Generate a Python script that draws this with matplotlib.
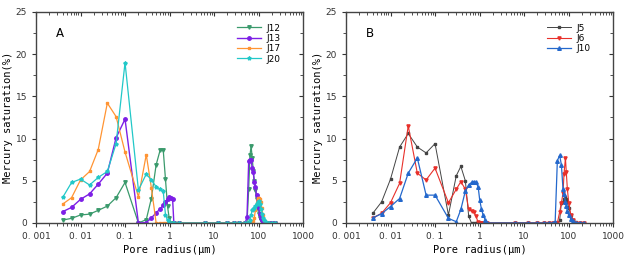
import numpy as np
import matplotlib
matplotlib.use('Agg')
import matplotlib.pyplot as plt
from matplotlib.ticker import FixedLocator, FixedFormatter, LogLocator, MultipleLocator, NullFormatter

# pore radius grid (um), panel A
rA = [0.004, 0.0063, 0.01, 0.016, 0.025, 0.04, 0.063, 0.1,
      0.2, 0.3, 0.39, 0.5, 0.62, 0.72, 0.81, 0.9, 0.98, 1.07, 1.17, 1.25,
      1.6, 6.3, 12.5, 20, 28, 37, 50,
      55, 60, 64, 68, 72, 76, 80, 85, 90, 95, 100, 106, 112, 118, 125, 135, 150, 170, 200, 230]

J12 = [0.35, 0.55, 0.95, 1.05, 1.5, 2.0, 3.0, 4.8,
       0.0, 0.4, 2.9, 6.9, 8.7, 8.7, 5.2, 2.0, 0.6, 0.0, 0.0, 0.0,
       0, 0, 0, 0, 0, 0, 0,
       0.0, 4.0, 8.0, 9.1, 7.7, 6.2, 5.0, 3.9, 2.8, 1.8, 1.1, 0.6, 0.3, 0.15, 0.05, 0, 0, 0, 0, 0]
J13 = [1.35, 1.85, 2.8, 3.45, 4.6, 5.9, 10.1, 12.3,
       0.0, 0.05, 0.6, 1.2, 1.7, 2.1, 2.5, 2.9, 3.1, 3.0, 2.9, 0.0,
       0, 0, 0, 0, 0, 0, 0,
       0.7, 7.3, 7.5, 7.5, 6.5, 6.0, 4.9, 4.3, 3.3, 2.6, 1.8, 1.1, 0.6, 0.3, 0.1, 0, 0, 0, 0, 0]
J17 = [2.25, 3.0, 5.1, 6.1, 8.7, 14.2, 12.6, 8.4,
       3.1, 8.1, 4.2, 0.0, 0, 0, 0, 0, 0, 0, 0, 0,
       0, 0, 0, 0, 0, 0, 0,
       0, 0, 0, 0, 0, 0.2, 0.6, 1.5, 2.4, 3.0, 3.0, 2.9, 2.5, 1.8, 1.0, 0.4, 0.15, 0.05, 0, 0]
J20 = [3.05, 4.8, 5.2, 4.5, 5.4, 6.1, 9.4, 19.0,
       3.9, 5.8, 5.1, 4.3, 4.0, 3.8, 1.0, 0.3, 0.0, 0, 0, 0,
       0, 0, 0, 0, 0, 0, 0,
       0, 0, 0.3, 1.0, 1.5, 1.6, 1.8, 2.0, 2.3, 2.5, 2.6, 2.2, 1.6, 1.1, 0.6, 0.3, 0.1, 0.05, 0, 0]

# panel B
rB = [0.004, 0.0063, 0.01, 0.016, 0.025, 0.04, 0.063, 0.1,
      0.2, 0.3, 0.38, 0.48, 0.57, 0.66, 0.74, 0.83, 0.93, 1.01, 1.1, 1.2, 1.36, 1.5,
      6.3, 12.5, 20, 28, 37, 45,
      50, 56, 63, 69, 75, 79, 85, 89, 94, 101, 112, 126, 150, 180, 220]

J5 = [1.15, 2.5, 5.2, 9.0, 10.6, 9.0, 8.3, 9.4,
      0.95, 5.6, 6.7, 5.0, 0.8, 0, 0, 0, 0, 0, 0, 0, 0, 0,
      0, 0, 0, 0, 0, 0,
      0, 0, 0.3, 2.4, 2.5, 2.9, 3.1, 2.9, 2.5, 1.8, 1.0, 0.4, 0.1, 0, 0]
J6 = [0.6, 1.15, 2.4, 4.7, 11.5, 5.9, 5.1, 6.5,
      2.4, 4.0, 4.9, 4.0, 1.6, 1.4, 1.3, 0.8, 0.1, 0, 0, 0, 0, 0,
      0, 0, 0, 0, 0, 0,
      0, 0, 1.3, 2.4, 3.5, 5.8, 7.7, 6.0, 4.0, 2.4, 1.0, 0.4, 0.05, 0, 0]
J10 = [0.6, 1.1, 1.95, 2.9, 5.9, 7.7, 3.3, 3.3,
       0.55, 0.15, 1.6, 3.8, 4.5, 4.8, 4.9, 4.8, 4.3, 2.7, 1.7, 0.95, 0.3, 0.0,
       0, 0, 0, 0, 0, 0,
       0.15, 7.4, 8.0, 6.9, 4.0, 3.4, 2.5, 2.0, 1.4, 0.9, 0.5, 0.2, 0.05, 0, 0]

xticks = [0.001, 0.01, 0.1, 1, 10, 100, 1000]
xticklabels = ['0. 001', '0. 01', '0. 1', '1', '10', '100', '1000']


def style_axis(ax, letter):
    ax.set_xscale('log')
    ax.set_xlim(0.001, 1000)
    ax.set_ylim(0, 25)
    ax.xaxis.set_major_locator(FixedLocator(xticks))
    ax.xaxis.set_major_formatter(FixedFormatter(xticklabels))
    ax.xaxis.set_minor_locator(LogLocator(base=10, subs=np.arange(2, 10), numticks=20))
    ax.xaxis.set_minor_formatter(NullFormatter())
    ax.yaxis.set_major_locator(MultipleLocator(5))
    ax.yaxis.set_minor_locator(MultipleLocator(2.5))
    ax.tick_params(which='both', direction='out', labelsize=6.5, colors='#333333')
    ax.tick_params(which='both', top=True, right=True)
    ax.tick_params(which='major', length=3, width=0.8)
    ax.tick_params(which='minor', length=2, width=0.6)
    # top and right ticks point inward
    for t in ax.xaxis.get_major_ticks() + ax.xaxis.get_minor_ticks():
        t.tick2line.set_marker(3)
    for t in ax.yaxis.get_major_ticks() + ax.yaxis.get_minor_ticks():
        t.tick2line.set_marker(0)
    for s in ax.spines.values():
        s.set_linewidth(1.0)
        s.set_color('#444444')
    ax.set_xlabel('Pore radius(μm)', family='DejaVu Sans Mono', fontsize=7.5, labelpad=3)
    ax.set_ylabel('Mercury saturation(%)', family='DejaVu Sans Mono', fontsize=7.5, labelpad=2)
    ax.text(0.075, 0.9, letter, transform=ax.transAxes, fontsize=8.5, ha='left', va='center')
    ax.legend(loc='upper left', bbox_to_anchor=(0.73, 0.975), frameon=False, fontsize=6.5,
              handlelength=2.6, labelspacing=0.15, borderpad=0.2, handletextpad=0.6)


fig = plt.figure(figsize=(6.24, 2.59), dpi=100)
ax1 = fig.add_axes([0.0577, 0.139, 0.428, 0.815])
ax2 = fig.add_axes([0.5545, 0.139, 0.428, 0.815])

ax1.plot(rA, J12, color='#3a9a6c', marker='v', ms=2.5, lw=0.9, label='J12')
ax1.plot(rA, J13, color='#7d1fe6', marker='o', ms=2.5, lw=1.0, label='J13')
ax1.plot(rA, J17, color='#ff9433', marker='s', ms=2.0, lw=0.9, label='J17')
ax1.plot(rA, J20, color='#22c8c8', marker='*', ms=2.8, lw=0.9, label='J20')
style_axis(ax1, 'A')

ax2.plot(rB, J5, color='#444444', marker='s', ms=1.8, lw=0.7, label='J5')
ax2.plot(rB, J6, color='#e8302a', marker='v', ms=2.3, lw=0.8, label='J6')
ax2.plot(rB, J10, color='#2468cc', marker='^', ms=2.6, lw=0.9, label='J10')
style_axis(ax2, 'B')

fig.savefig('out.png', dpi=100)
